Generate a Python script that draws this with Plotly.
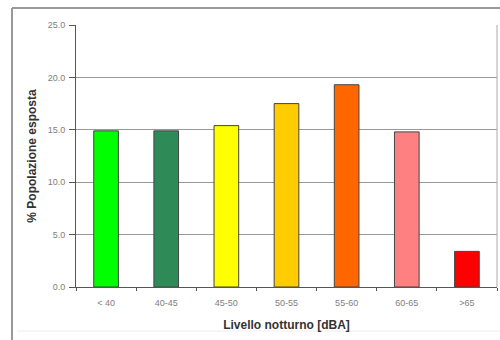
import plotly.graph_objects as go

# Exposure by night-time noise level band
categories = ["< 40", "40-45", "45-50", "50-55", "55-60", "60-65", ">65"]
values = [14.9, 14.9, 15.4, 17.5, 19.3, 14.8, 3.4]
bar_colors = ["#00ff00", "#2e8b57", "#ffff00", "#ffcc00", "#ff6600", "#ff8080", "#ff0000"]
y_ticks = [0, 5, 10, 15, 20, 25]
y_tick_labels = ["0.0", "5.0", "10.0", "15.0", "20.0", "25.0"]

fig = go.Figure(
    go.Bar(
        x=categories,
        y=values,
        marker=dict(color=bar_colors, line=dict(color="#444444", width=1)),
    )
)

fig.update_layout(
    width=500,
    height=340,
    margin=dict(l=76, r=3, t=25, b=53),
    paper_bgcolor="white",
    plot_bgcolor="white",
    bargap=0.59,
    showlegend=False,
    font=dict(family="Liberation Sans, Arial, sans-serif"),
)

fig.update_xaxes(
    showline=True,
    linecolor="#555555",
    linewidth=1,
    ticks="outside",
    ticklen=3,
    tickcolor="#555555",
    tickson="boundaries",
    ticklabelstandoff=7,
    tickfont=dict(size=9, color="#808080"),
    title=dict(
        text="<b>Livello notturno [dBA]</b>",
        font=dict(size=12, color="#333333"),
        standoff=13,
    ),
)

fig.update_yaxes(
    range=[0, 25],
    tickvals=y_ticks,
    ticktext=y_tick_labels,
    showline=True,
    linecolor="#555555",
    linewidth=1,
    ticks="outside",
    ticklen=6,
    tickcolor="#555555",
    showgrid=True,
    gridcolor="#999999",
    gridwidth=1,
    zeroline=False,
    ticklabelstandoff=2,
    tickfont=dict(size=9, color="#808080"),
    title=dict(
        text="<b>% Popolazione esposta</b>",
        font=dict(size=12, color="#333333"),
        standoff=8,
    ),
)

# Plot area right border and the outer chart frame
fig.add_shape(type="line", xref="paper", yref="paper", x0=1, x1=1, y0=0, y1=1,
              line=dict(color="#aaaaaa", width=1))
fig.add_shape(type="line", xref="paper", yref="paper", x0=-0.152, x1=1.01, y0=1.065, y1=1.065,
              line=dict(color="#999999", width=2))
fig.add_shape(type="line", xref="paper", yref="paper", x0=-0.152, x1=-0.152, y0=-0.21, y1=1.065,
              line=dict(color="#999999", width=2))
fig.add_shape(type="line", xref="paper", yref="paper", x0=-0.14, x1=1.01, y0=-0.168, y1=-0.168,
              line=dict(color="#eeeeee", width=1))

fig.write_html("out.html")
